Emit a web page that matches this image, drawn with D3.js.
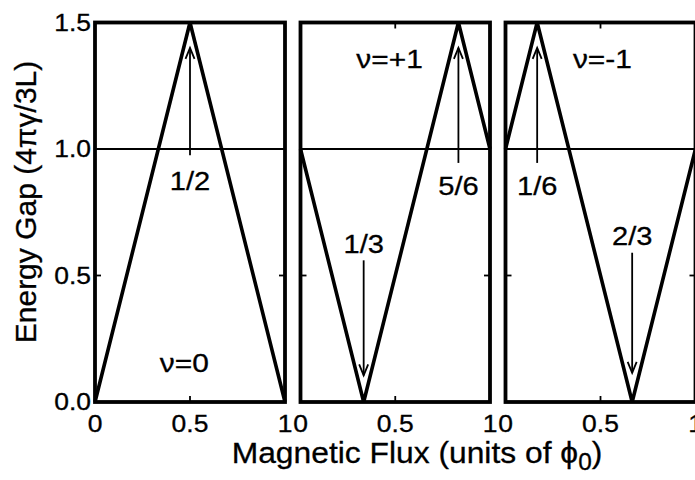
<!DOCTYPE html>
<html><head><meta charset="utf-8">
<script src="https://cdn.jsdelivr.net/npm/d3@7"></script>
<style>body{margin:0;background:#fff} svg{display:block}</style>
</head><body>
<svg id="c" width="695" height="480"></svg>
<script>
// ---- data ----
const panelLabels = ["ν=0", "ν=+1", "ν=-1"];
const fluxPoints = [[0, 0.5, 1], [0, 1/3, 5/6, 1], [0, 1/6, 2/3, 1]];
const gapValues  = [[0, 1.5, 0], [1.0, 0, 1.5, 1.0], [1.0, 1.5, 0, 1.0]];
const arrowFlux   = [[0.5], [1/3, 5/6], [1/6, 2/3]];
const arrowLabels = [["1/2"], ["1/3", "5/6"], ["1/6", "2/3"]];
const arrowFrom   = [[0.975], [0.56, 0.945], [0.945, 0.59]];
const arrowTo     = [[1.40], [0.105, 1.40], [1.40, 0.115]];
const labelAt     = [[0.838], [0.588, 0.818], [0.818, 0.62]];
const refLevel = 1.0;
const yTicks = [0, 0.5, 1.0, 1.5];
const yTickLabels = ["0.0", "0.5", "1.0", "1.5"];
const xTicks = [0, 0.5, 1];
const xTickLabels = ["0", "0.5", "1"];
const panelLabelPos = [[0.47, 0.118], [0.47, 1.32], [0.51, 1.32]];

// ---- layout ----
const svg = d3.select("#c");
const FONT = "'Liberation Sans', Arial, Helvetica, sans-serif";
const panelRanges = [[95, 285], [300.5, 490], [505.5, 695.5]];
const y = d3.scaleLinear().domain([0, 1.5]).range([402, 22.5]);

function stext(parent, x, yy, str, size, sx, anchor) {
  return parent.append("text")
    .attr("transform", `translate(${x},${yy}) scale(${sx},1)`)
    .attr("text-anchor", anchor || "middle")
    .attr("font-family", FONT).attr("font-size", size)
    .attr("fill", "#000").attr("stroke", "#000").attr("stroke-width", 0.3)
    .text(str);
}

panelRanges.forEach((rng, i) => {
  const x = d3.scaleLinear().domain([0, 1]).range(rng);
  const g = svg.append("g");

  // reference line at 1.0
  g.append("line")
    .attr("x1", x(0)).attr("x2", x(1))
    .attr("y1", y(refLevel)).attr("y2", y(refLevel))
    .attr("stroke", "#000").attr("stroke-width", 2);

  // inner ticks
  const tl = 6;
  const tick = (x1, y1, x2, y2) => g.append("line").attr("x1", x1).attr("y1", y1).attr("x2", x2).attr("y2", y2)
    .attr("stroke", "#000").attr("stroke-width", 1.8);
  tick(x(0.5), y(0), x(0.5), y(0) - tl);
  tick(x(0.5), y(1.5), x(0.5), y(1.5) + tl);
  tick(x(0), y(0.5), x(0) + tl, y(0.5));
  tick(x(1), y(0.5), x(1) - tl, y(0.5));

  // data line
  const pts = fluxPoints[i].map((f, k) => [f, gapValues[i][k]]);
  g.append("path")
    .attr("d", d3.line().x(d => x(d[0])).y(d => y(d[1]))(pts))
    .attr("fill", "none").attr("stroke", "#000")
    .attr("stroke-width", 3.6).attr("stroke-linejoin", "miter");

  // arrows
  arrowFlux[i].forEach((f, k) => {
    const ax = x(f), y0 = y(arrowFrom[i][k]), y1 = y(arrowTo[i][k]);
    const dir = y1 < y0 ? 1 : -1; // 1 = pointing up
    g.append("line").attr("x1", ax).attr("x2", ax).attr("y1", y0).attr("y2", y1)
      .attr("stroke", "#000").attr("stroke-width", 1.8);
    g.append("path")
      .attr("d", `M${ax - 4.5},${y1 + dir * 11} L${ax},${y1} L${ax + 4.5},${y1 + dir * 11}`)
      .attr("fill", "none").attr("stroke", "#000").attr("stroke-width", 1.8);
    stext(g, ax, y(labelAt[i][k]), arrowLabels[i][k], 26, 1.12);
  });

  // panel label
  stext(g, x(panelLabelPos[i][0]), y(panelLabelPos[i][1]), panelLabels[i], 26, 1.15);

  // frame
  g.append("rect")
    .attr("x", x(0)).attr("y", y(1.5))
    .attr("width", x(1) - x(0)).attr("height", y(0) - y(1.5))
    .attr("fill", "none").attr("stroke", "#000").attr("stroke-width", 3.8);

  // x tick labels
  xTicks.forEach((t, k) => stext(g, x(t), 432, xTickLabels[k], 23, 1.15));
});

// y tick labels
yTicks.forEach((t, k) => stext(svg, 91, y(t) + 8, yTickLabels[k], 23, 1.15, "end"));

// axis titles
const xt = svg.append("text")
  .attr("transform", "translate(417,463) scale(1.06,1)")
  .attr("text-anchor", "middle").attr("font-family", FONT).attr("font-size", 30)
  .attr("stroke", "#000").attr("stroke-width", 0.3);
xt.append("tspan").text("Magnetic Flux (units of ϕ");
xt.append("tspan").attr("font-size", 23).attr("dy", 7).text("0");
xt.append("tspan").attr("dy", -7).text(")");

svg.append("text")
  .attr("transform", "translate(35.5,202) rotate(-90)")
  .attr("text-anchor", "middle").attr("font-family", FONT).attr("font-size", 30)
  .attr("stroke", "#000").attr("stroke-width", 0.3)
  .text("Energy Gap (4πγ/3L)");
</script>
</body></html>
